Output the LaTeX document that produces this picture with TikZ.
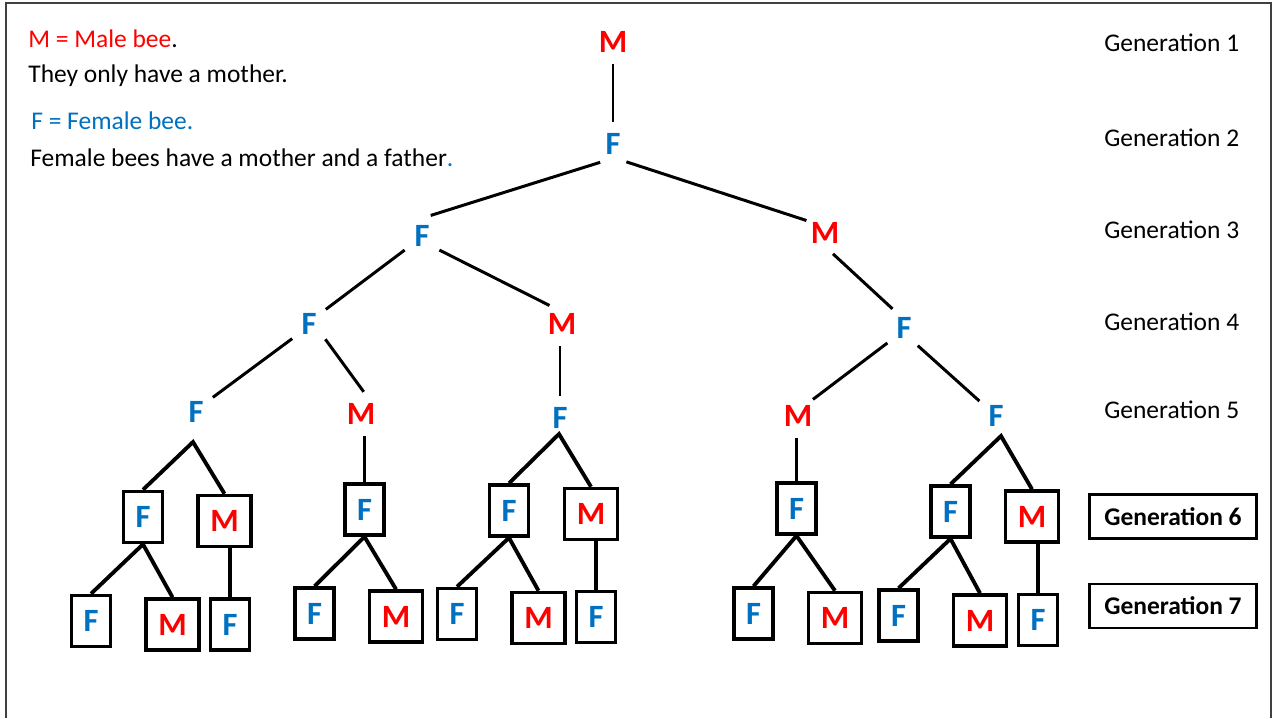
\documentclass[tikz,border=0pt]{standalone}
\usepackage{fontspec}
\setmainfont{Carlito}
\definecolor{mred}{HTML}{FF0000}
\definecolor{fblue}{HTML}{0070C0}
\newcommand{\letterfont}{\bfseries\fontsize{18.5}{22}\selectfont}
\newcommand{\genfont}{\fontsize{14.5}{17}\selectfont}
\begin{document}
\begin{tikzpicture}[x=0.02cm,y=-0.02cm,
  lm/.style={circle,inner sep=0pt,minimum size=0.88cm,text=mred,font=\letterfont},
  lf/.style={lm,text=fblue},
  tl/.style={line width=1.7pt},
  bl/.style={line width=2.2pt},
  bx/.style={draw,line width=2pt,inner sep=0pt,minimum height=1.02cm,font=\letterfont},
  bm/.style={bx,minimum width=1.06cm,text=mred},
  bf/.style={bx,minimum width=0.78cm,text=fblue},
  gen/.style={anchor=base west,inner sep=0pt,font=\genfont},
  genb/.style={draw,line width=1.6pt,minimum width=3.34cm,minimum height=0.88cm,inner sep=0pt,font=\genfont\bfseries},
  txt/.style={anchor=base west,inner sep=0pt,font=\genfont}
]
\useasboundingbox (0,0) rectangle (1276,718);
\fill[white] (0,0) rectangle (1276,718);
\draw[line width=1.1pt,black!75] (6,718) -- (6,3) -- (1271,3) -- (1271,718);

% legend
\node[txt] (t1) at (28,47) {\textcolor{mred}{M = Male bee}.};
\node[txt] (t2) at (28,82) {They only have a mother.};
\node[txt,text=fblue] (t3) at (31,129) {F = Female bee.};
\node[txt] (t4) at (30,166) {Female bees have a mother and a father\textcolor{fblue}{.}};

% generation labels
\node[gen] (G1) at (1104,51) {Generation 1};
\node[gen] (G2) at (1104,146) {Generation 2};
\node[gen] (G3) at (1104,238) {Generation 3};
\node[gen] (G4) at (1104,330) {Generation 4};
\node[gen] (G5) at (1104,418) {Generation 5};
\node[genb] (G6) at (1173,516.5) {Generation 6};
\node[genb] (G7) at (1173,606) {Generation 7};

% upper tree
\node[lm] (g1) at (613,42) {M};
\node[lf] (g2) at (613,144) {F};
\node[lf] (g3a) at (422,236) {F};
\node[lm] (g3b) at (825,233) {M};
\node[lf] (g4a) at (309,324) {F};
\node[lm] (g4b) at (562,324) {M};
\node[lf] (g4c) at (904,328) {F};
\node[lf] (g5a) at (196,412) {F};
\node[lm] (g5b) at (361,414) {M};
\node[lf] (g5c) at (560,418) {F};
\node[lm] (g5d) at (798,416) {M};
\node[lf] (g5e) at (996,416) {F};

\draw[tl] (g1.south) -- (g2.north);
\draw[tl] (g2.-125) -- (g3a.67);
\draw[tl] (g2.-53) -- (g3b.146);
\draw[tl] (g3a.-141) -- (g4a.41);
\draw[tl] (g3a.-39) -- (g4b.124);
\draw[tl] (g3b.-69) -- (g4c.121);
\draw[tl] (g4a.-139) -- (g5a.41);
\draw[tl] (g4a.-43) -- (g5b.83);
\draw[tl] (g5c.north |- g4b.south) -- (g5c.north);
\draw[tl] (g4c.-138) -- (g5d.48);
\draw[tl] (g4c.-52) -- (g5e.138);

% apex points below generation 5
\coordinate (a5a) at (193,442);
\coordinate (a5c) at (559,434);
\coordinate (a5e) at (1001,436);

% generation 6 boxes
\node[bf] (b6a) at (143,517) {F};
\node[bm] (b6b) at (224.5,521) {M};
\node[bf] (b6c) at (364.5,509.5) {F};
\node[bf] (b6d) at (509,510.5) {F};
\node[bm] (b6e) at (591,514) {M};
\node[bf] (b6f) at (796.5,508.5) {F};
\node[bf] (b6g) at (950.5,511.5) {F};
\node[bm] (b6h) at (1032,516.5) {M};

% generation 7 boxes
\node[bf] (b7a) at (91,621) {F};
\node[bm] (b7b) at (172.5,624.5) {M};
\node[bf] (b7c) at (230,624.5) {F};
\node[bf] (b7d) at (314.5,613.5) {F};
\node[bm] (b7e) at (396,616.5) {M};
\node[bf] (b7f) at (457,614) {F};
\node[bm] (b7g) at (538.5,618) {M};
\node[bf] (b7h) at (596,617) {F};
\node[bf] (b7i) at (753.5,613.5) {F};
\node[bm] (b7j) at (835,618) {M};
\node[bf] (b7k) at (898.5,615.5) {F};
\node[bm] (b7l) at (980,620.5) {M};
\node[bf] (b7m) at (1038,620) {F};

% gen5 -> gen6
\draw[bl] (b6a.north) -- (a5a) -- (b6b.north);
\draw[bl] (b6c.north |- g5b.south) -- (b6c.north);
\draw[bl] (b6d.north) -- (a5c) -- (b6e.north);
\draw[bl] (b6f.north |- g5d.south) -- (b6f.north);
\draw[bl] (b6g.north) -- (a5e) -- (b6h.north);

% gen6 -> gen7
\draw[bl] (b7a.north) -- (b6a.south) -- (b7b.north);
\draw[bl] (b7c.north |- b6b.south) -- (b7c.north);
\draw[bl] (b7d.north) -- (b6c.south) -- (b7e.north);
\draw[bl] (b7f.north) -- (b6d.south) -- (b7g.north);
\draw[bl] (b7h.north |- b6e.south) -- (b7h.north);
\draw[bl] (b7i.north) -- (b6f.south) -- (b7j.north);
\draw[bl] (b7k.north) -- (b6g.south) -- (b7l.north);
\draw[bl] (b7m.north |- b6h.south) -- (b7m.north);
\end{tikzpicture}
\end{document}
